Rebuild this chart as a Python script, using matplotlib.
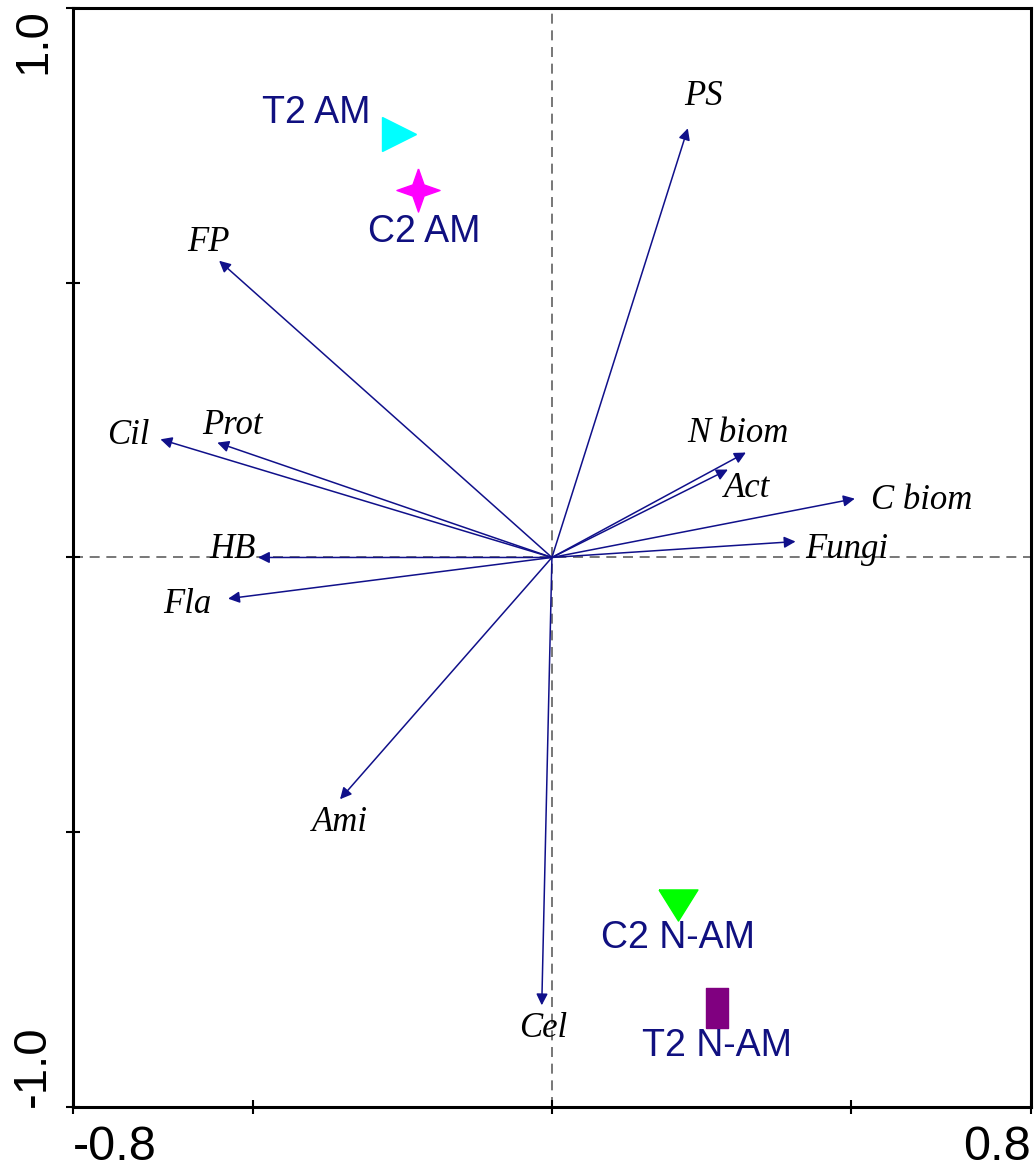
import numpy as np
import matplotlib.pyplot as plt
from matplotlib.path import Path

# response variables (arrows): biplot scores on axes 1 and 2
var_names = ["PS", "FP", "Cil", "Prot", "N biom", "Act", "C biom",
             "Fungi", "HB", "Fla", "Ami", "Cel"]
var_x = [0.227, -0.556, -0.654, -0.559, 0.324, 0.294, 0.506,
         0.407, -0.491, -0.541, -0.354, -0.017]
var_y = [0.781, 0.540, 0.215, 0.209, 0.191, 0.160, 0.107,
         0.029, 0.000, -0.075, -0.440, -0.815]

# treatment centroids
site_names = ["T2 AM", "C2 AM", "C2 N-AM", "T2 N-AM"]
site_x = [-0.255, -0.223, 0.210, 0.276]
site_y = [0.771, 0.668, -0.632, -0.819]

x_ticks = [-0.8, -0.5, 0.0, 0.5, 0.8]
x_ticklabels = ["-0.8", "", "", "", "0.8"]
y_ticks = [-1.0, -0.5, 0.0, 0.5, 1.0]
y_ticklabels = ["-1.0", "", "", "", "1.0"]

# label offsets (points) relative to arrow tip
var_offsets = {
    "PS": (11, 23), "FP": (-8, 13), "Cil": (-23, 3), "Prot": (11, 12),
    "N biom": (-6, 14), "Act": (14, -14), "C biom": (48, -1),
    "Fungi": (37, -6), "HB": (-18, 6), "Fla": (-29, -4),
    "Ami": (0, -17), "Cel": (1, -17),
}

star = Path([(0, 1), (0.26, 0.26), (1, 0), (0.26, -0.26), (0, -1),
             (-0.26, -0.26), (-1, 0), (-0.26, 0.26), (0, 1)])
down_tri = [(-1, 0.8), (1, 0.8), (0, -0.8), (-1, 0.8)]
rect = [(-0.55, -1), (0.55, -1), (0.55, 1), (-0.55, 1), (-0.55, -1)]

site_style = {
    "T2 AM": dict(marker=">", color="#00ffff", ms=25, offset=(-60, 15)),
    "C2 AM": dict(marker=star, color="#ff00ff", ms=31, offset=(4, -30)),
    "C2 N-AM": dict(marker=down_tri, color="#00ff00", ms=28, offset=(0, -24)),
    "T2 N-AM": dict(marker=rect, color="#800080", ms=29, offset=(0, -28)),
}

navy = "#10108a"

fig = plt.figure(figsize=(10.36, 11.73), dpi=100)
ax = fig.add_axes([0.0705, 0.0563, 0.9245, 0.9369])
ax.set_xlim(-0.8, 0.8)
ax.set_ylim(-1.0, 1.0)

ax.axhline(0, color="#606060", lw=1.2, ls=(0, (6, 4)), zorder=1)
ax.axvline(0, color="#606060", lw=1.2, ls=(0, (6, 4)), zorder=1)

for name, x, y in zip(var_names, var_x, var_y):
    ax.annotate("", xy=(x, y), xytext=(0, 0),
                arrowprops=dict(arrowstyle="-|>", color=navy, lw=1.1,
                                mutation_scale=17, shrinkA=0, shrinkB=0),
                zorder=3)
    dx, dy = var_offsets[name]
    ax.annotate(name, xy=(x, y), xytext=(dx, dy), textcoords="offset points",
                ha="center", va="center", fontsize=25, style="italic",
                family="Liberation Serif", color="black", zorder=4)

for name, x, y in zip(site_names, site_x, site_y):
    st = site_style[name]
    ax.plot(x, y, marker=st["marker"], ms=st["ms"], color=st["color"],
            mec=st["color"], ls="none", zorder=5)
    ax.annotate(name, xy=(x, y), xytext=st["offset"],
                textcoords="offset points", ha="center", va="center",
                fontsize=27, family="Liberation Sans", color="#101080",
                zorder=5)

ax.set_xticks(x_ticks)
ax.set_xticklabels(x_ticklabels, fontsize=35, family="Liberation Sans")
ax.set_yticks(y_ticks)
ax.set_yticklabels(y_ticklabels, fontsize=34, family="Liberation Sans",
                   rotation=90)
ax.tick_params(direction="inout", length=10, width=1.5, colors="black")
ax.tick_params(axis="x", pad=8)
ax.tick_params(axis="y", pad=8)

xl = ax.get_xticklabels()
xl[0].set_ha("left")
xl[-1].set_ha("right")
yl = ax.get_yticklabels()
yl[0].set_va("bottom")
yl[-1].set_va("top")

for sp in ax.spines.values():
    sp.set_linewidth(2.2)
    sp.set_color("black")

fig.savefig("out.png", dpi=100)
